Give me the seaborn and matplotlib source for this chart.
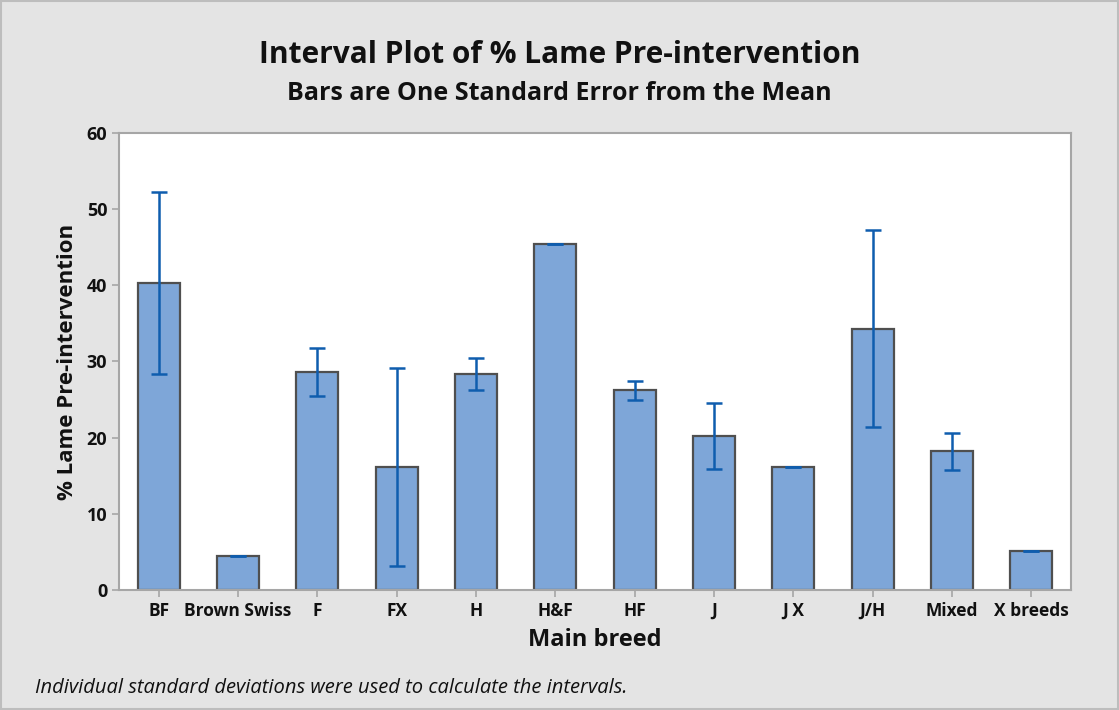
import numpy as np
import pandas as pd
import seaborn as sns
import matplotlib.pyplot as plt

# Interval plot data (means and standard errors)
breeds = ['BF', 'Brown Swiss', 'F', 'FX', 'H', 'H&F', 'HF', 'J', 'J X', 'J/H', 'Mixed', 'X breeds']
means = [40.3, 4.4, 28.6, 16.1, 28.4, 45.4, 26.2, 20.2, 16.1, 34.3, 18.2, 5.1]
std_err = [11.9, 0.0, 3.15, 13.0, 2.1, 0.0, 1.2, 4.35, 0.0, 12.9, 2.4, 0.0]

df = pd.DataFrame({'breed': breeds, 'pct_lame': means, 'se': std_err})

sns.set_style('white')
plt.rcParams['font.family'] = ['Open Sans', 'DejaVu Sans']
plt.rcParams['text.color'] = '#111111'
plt.rcParams['axes.labelcolor'] = '#111111'
plt.rcParams['xtick.labelcolor'] = '#111111'
plt.rcParams['ytick.labelcolor'] = '#111111'

fig = plt.figure(figsize=(11.19, 7.10), dpi=100, facecolor='#E4E4E4')
ax = fig.add_axes([0.1063, 0.169, 0.8507, 0.6437])
ax.set_facecolor('white')

sns.barplot(data=df, x='breed', y='pct_lame', color='#7EA6D8', saturation=1,
            edgecolor='#4F4F4F', linewidth=1.6, width=0.53, errorbar=None, ax=ax)
ax.errorbar(np.arange(len(breeds)), df['pct_lame'], yerr=df['se'], fmt='none',
            ecolor='#0F5DAE', elinewidth=1.8, capsize=5.5, capthick=1.8, zorder=5)

ax.set_xlim(-0.5, len(breeds) - 0.5)
ax.set_ylim(0, 60)
ax.set_yticks([0, 10, 20, 30, 40, 50, 60])

for s in ax.spines.values():
    s.set_color('#A6A6A6')
    s.set_linewidth(1.5)

ax.tick_params(axis='both', which='both', direction='out', color='#A6A6A6',
               length=5, width=1.2, bottom=True, left=True)
ax.tick_params(axis='x', labelsize=12.5)
ax.tick_params(axis='y', labelsize=13)
for lab in ax.get_xticklabels() + ax.get_yticklabels():
    lab.set_fontweight('bold')

ax.set_xlabel('Main breed', fontsize=17, fontweight='bold', labelpad=6)
ax.set_ylabel('% Lame Pre-intervention', fontsize=16, fontweight='bold', labelpad=6)

fig.text(0.5, 0.922, 'Interval Plot of % Lame Pre-intervention', ha='center', va='center',
         fontsize=21.5, fontweight='bold')
fig.text(0.5, 0.868, 'Bars are One Standard Error from the Mean', ha='center', va='center',
         fontsize=18, fontweight='bold')
fig.text(0.031, 0.031, 'Individual standard deviations were used to calculate the intervals.',
         ha='left', va='center', fontsize=14.5, style='italic')

# outer frame
fig.patches.append(plt.Rectangle((0.001, 0.001), 0.998, 0.998, transform=fig.transFigure,
                                 fill=False, edgecolor='#BDBDBD', linewidth=1.5))

plt.savefig('out.png', dpi=100, facecolor=fig.get_facecolor())
